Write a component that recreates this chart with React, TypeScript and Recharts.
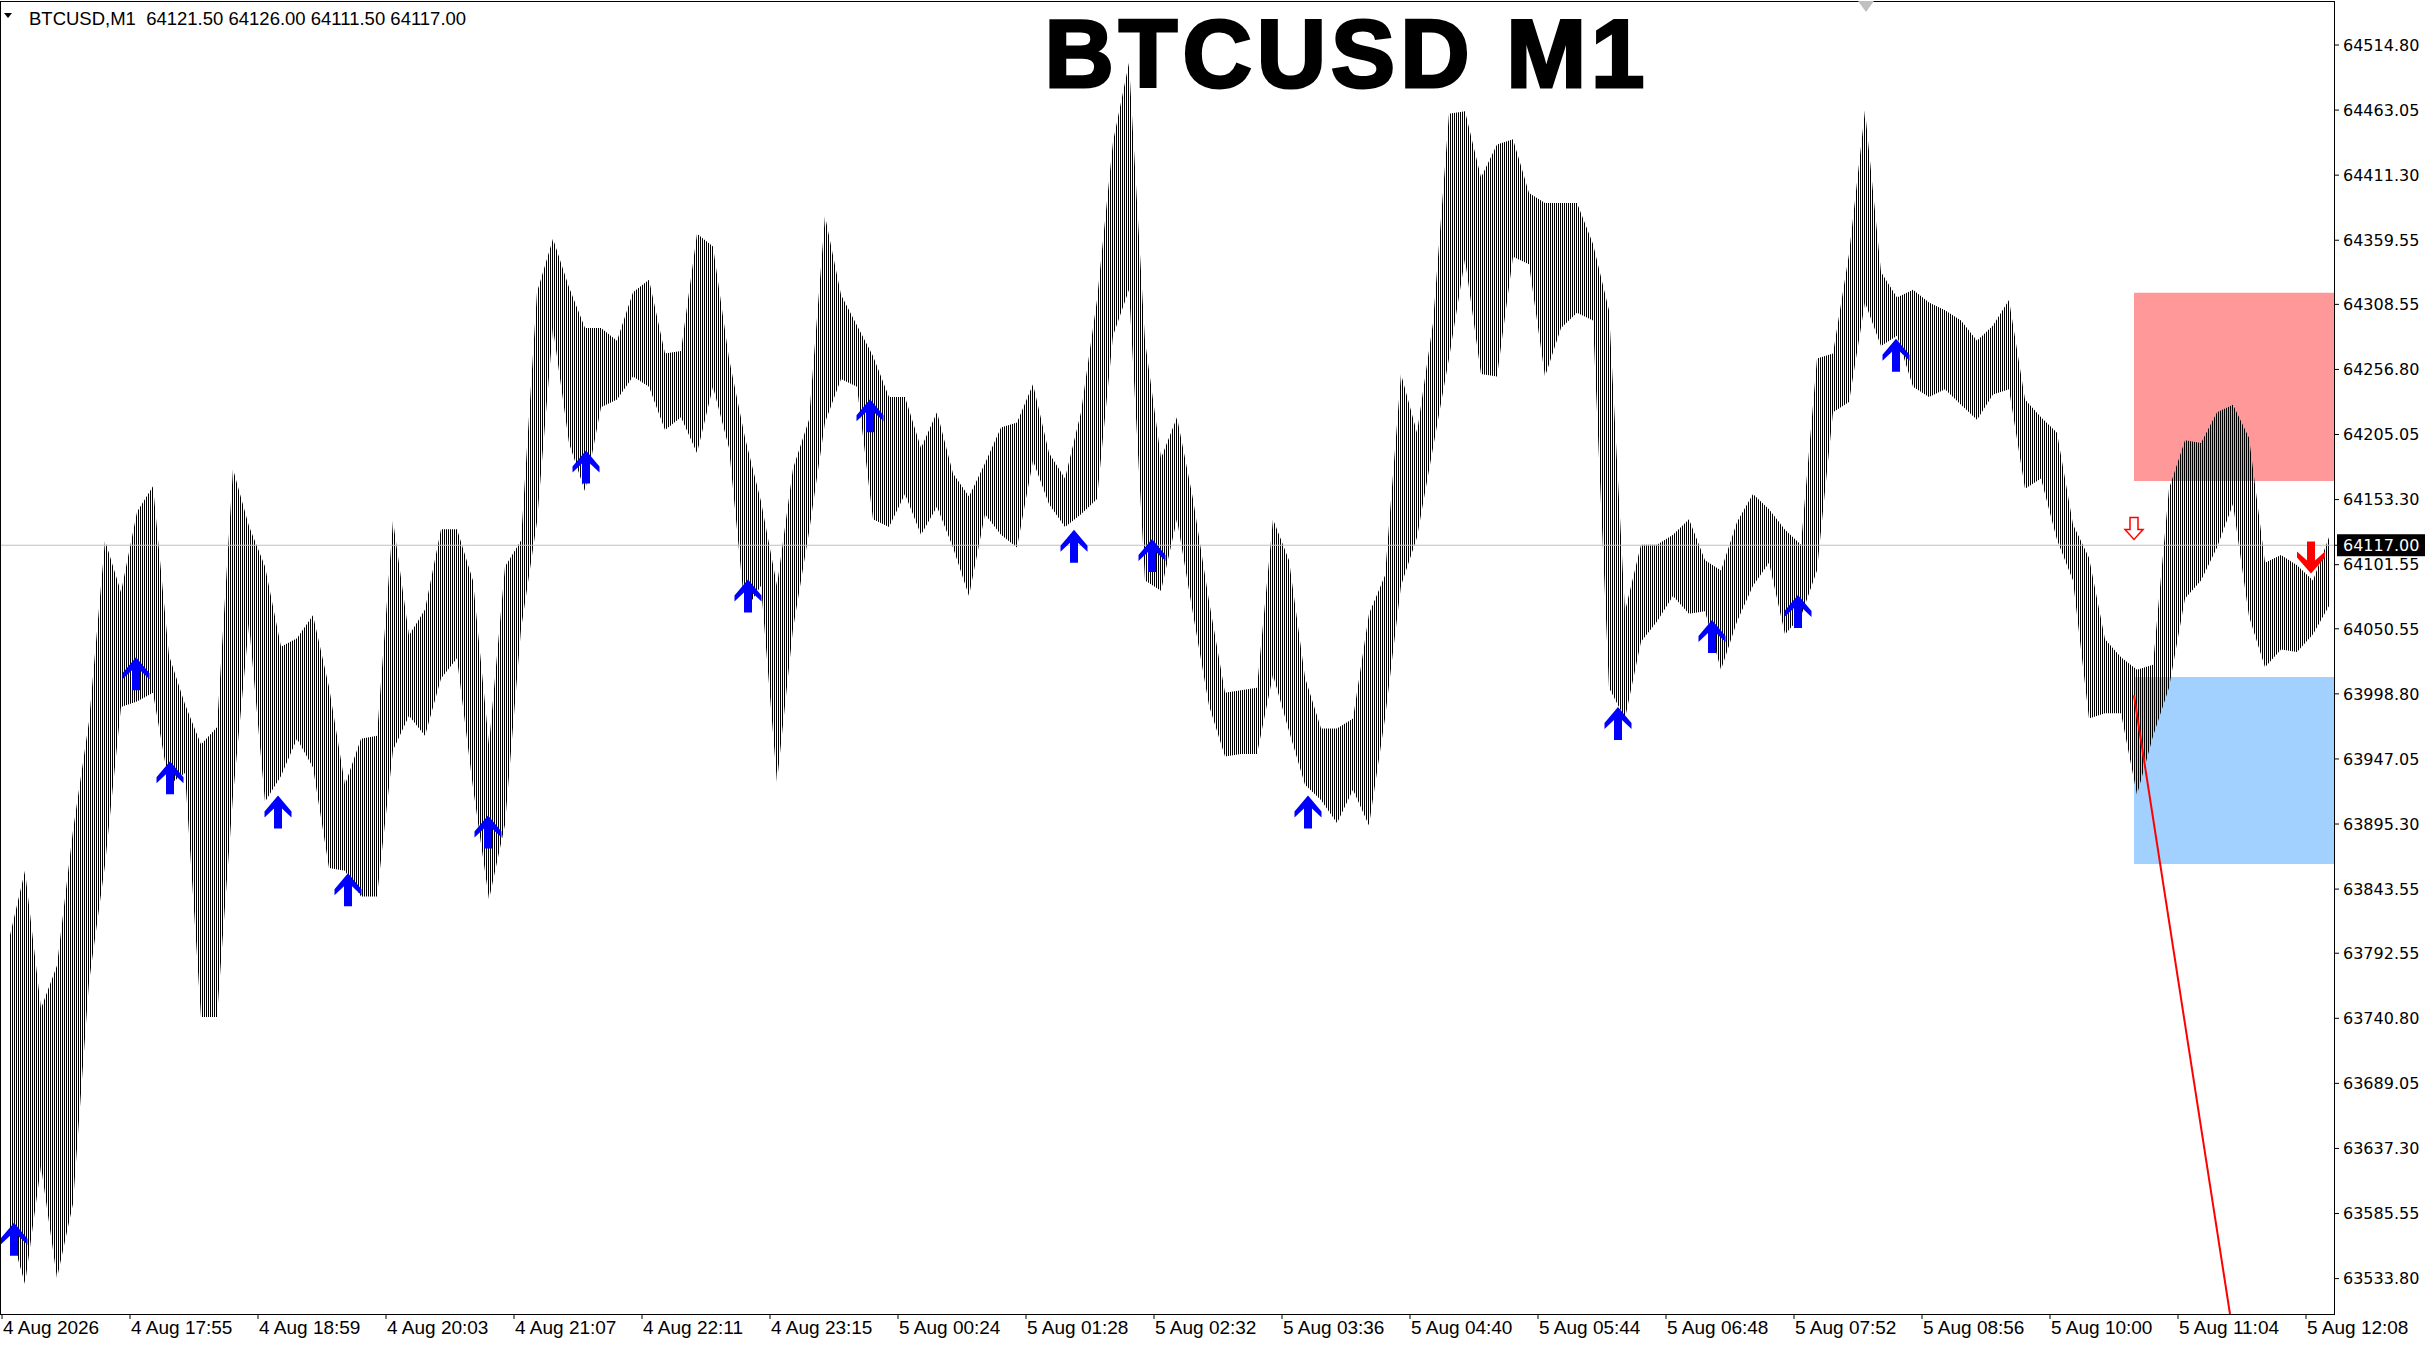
import React from 'react'
import {
  ComposedChart, Area, Scatter, XAxis, YAxis, ReferenceLine, ReferenceArea,
} from 'recharts'

// each value = high / low of one block of 8 M1 bars
const BAR_STEP = 8
const HIGH = [
  63803.4, 63858.2, 63748.6, 63782.8, 63890.1, 63976.9, 64120.7, 64079.6, 64143.5, 64164.0,
  64029.4, 63990.6, 63958.6, 63972.3, 64177.7, 64132.1, 64100.1, 64036.2, 64043.1, 64061.3,
  64004.3, 63926.6, 63963.2, 63965.5, 64136.6, 64045.3, 64065.9, 64129.8, 64129.8, 64088.7,
  63958.6, 64100.1, 64120.7, 64318.1, 64360.7, 64322.1, 64289.7, 64289.7, 64279.6, 64318.1,
  64328.2, 64269.4, 64271.4, 64364.7, 64354.6, 64265.4, 64202.5, 64151.8, 64084.8, 64178.1,
  64216.7, 64378.9, 64316.1, 64291.7, 64267.4, 64234.9, 64234.9, 64194.4, 64222.8, 64174.1,
  64155.8, 64182.2, 64210.6, 64214.6, 64245.1, 64190.3, 64170.0, 64222.8, 64312.0, 64437.8,
  64500.7, 64279.6, 64186.2, 64218.7, 64153.8, 64072.6, 63999.6, 64001.6, 64003.7, 64137.6,
  64105.1, 64011.8, 63971.2, 63971.2, 63979.3, 64062.5, 64092.9, 64253.2, 64206.5, 64293.7,
  64460.1, 64462.1, 64409.4, 64435.7, 64439.8, 64397.2, 64389.1, 64389.1, 64389.1, 64356.6,
  64303.9, 64064.5, 64117.3, 64117.3, 64125.4, 64137.6, 64105.1, 64097.0, 64135.5, 64157.8,
  64145.7, 64129.4, 64117.3, 64265.4, 64269.4, 64348.5, 64462.9, 64334.3, 64314.0, 64320.1,
  64310.0, 64303.9, 64295.8, 64279.6, 64291.7, 64312.0, 64232.9, 64218.7, 64206.5, 64133.5,
  64107.1, 64042.2, 64028.0, 64017.9, 64021.9, 64161.9, 64200.4, 64198.4, 64222.8, 64228.8,
  64202.5, 64103.1, 64109.2, 64101.0, 64088.9, 64123.4,
]
const LOW = [
  63575.1, 63529.5, 63623.1, 63534.1, 63593.4, 63769.2, 63862.7, 63988.3, 63992.8, 63999.7,
  63926.6, 63935.8, 63741.8, 63741.8, 63917.5, 64054.5, 63913.0, 63933.5, 63963.2, 63940.3,
  63860.4, 63858.2, 63837.6, 63837.6, 63954.0, 63981.4, 63965.5, 64011.1, 64027.1, 63924.4,
  63835.3, 63894.7, 64049.9, 64135.5, 64289.7, 64198.4, 64159.9, 64226.8, 64232.9, 64251.2,
  64243.0, 64208.6, 64218.7, 64190.3, 64243.0, 64194.4, 64064.5, 64084.8, 63928.6, 64050.3,
  64127.4, 64214.6, 64249.1, 64243.0, 64137.6, 64131.5, 64157.8, 64125.4, 64147.7, 64115.2,
  64076.7, 64141.6, 64125.4, 64115.2, 64184.2, 64149.7, 64131.5, 64141.6, 64153.8, 64283.6,
  64320.1, 64088.9, 64080.8, 64137.6, 64062.5, 63989.5, 63948.9, 63950.9, 63950.9, 64013.8,
  63969.2, 63926.6, 63914.4, 63896.2, 63922.5, 63894.1, 63979.3, 64084.8, 64123.4, 64194.4,
  64265.4, 64344.5, 64253.2, 64251.2, 64346.5, 64340.4, 64251.2, 64289.7, 64301.9, 64295.8,
  64003.7, 63979.3, 64040.2, 64056.4, 64076.7, 64062.5, 64064.5, 64017.9, 64056.4, 64084.8,
  64103.1, 64046.3, 64060.5, 64097.0, 64222.8, 64230.9, 64310.0, 64275.5, 64283.6, 64243.0,
  64234.9, 64241.0, 64228.8, 64216.7, 64236.9, 64241.0, 64161.9, 64170.0, 64121.3, 64088.9,
  63979.3, 63983.4, 63983.4, 63918.5, 63965.1, 64003.7, 64074.7, 64088.9, 64115.2, 64149.7,
  64060.5, 64019.9, 64034.1, 64032.1, 64046.3, 64068.6,
]

const TIME_TICKS = [0, 64, 128, 192, 256, 320, 384, 448, 512, 576, 640, 704, 768, 832, 896, 960, 1024, 1088, 1152]
const TIME_LABELS = [
  '4 Aug 2026', '4 Aug 17:55', '4 Aug 18:59', '4 Aug 20:03', '4 Aug 21:07', '4 Aug 22:11',
  '4 Aug 23:15', '5 Aug 00:24', '5 Aug 01:28', '5 Aug 02:32', '5 Aug 03:36', '5 Aug 04:40',
  '5 Aug 05:44', '5 Aug 06:48', '5 Aug 07:52', '5 Aug 08:56', '5 Aug 10:00', '5 Aug 11:04',
  '5 Aug 12:08',
]
const PRICE_TICKS = [
  64514.80, 64463.05, 64411.30, 64359.55, 64308.55, 64256.80, 64205.05, 64153.30, 64101.55,
  64050.55, 63998.80, 63947.05, 63895.30, 63843.55, 63792.55, 63740.80, 63689.05, 63637.30,
  63585.55, 63533.80,
]
const LAST_PRICE = 64117.0

const UP_ARROWS = [
  { i: 6, p: 63578.3 }, { i: 67, p: 64028.0 }, { i: 84, p: 63945.2 }, { i: 138, p: 63918.0 },
  { i: 173, p: 63856.2 }, { i: 243, p: 63902.0 }, { i: 292, p: 64192.3 }, { i: 373, p: 64089.8 },
  { i: 434, p: 64233.1 }, { i: 536, p: 64129.3 }, { i: 575, p: 64121.9 }, { i: 653, p: 63918.0 },
  { i: 808, p: 63988.4 }, { i: 855, p: 64057.6 }, { i: 898, p: 64077.4 }, { i: 947, p: 64281.3 },
]
const SELL_HINT = [{ i: 1066, p: 64121.6 }]
const SELL_ARROW = [{ i: 1154.5, p: 64094.5 }]

const ZONE_FROM = 1066
const SELL_ZONE = [64168.0, 64317.7]
const BUY_ZONE = [63863.5, 64012.2]
const TREND = [{ x: 1066, y: 63997.6 }, { x: 1114, y: 63505.65 }]

const X_DOMAIN = [-0.5, 1166]
const Y_DOMAIN = [63505.65, 64549.0]

const bars = HIGH.map((h, k) => ({ i: k * BAR_STEP + 3.5, hi: h, lo: LOW[k] }))

const TimeTick = ({ x, y, payload }: any) => {
  const idx = TIME_TICKS.indexOf(payload.value)
  return (
    <text x={x + 1} y={y} dy="0.71em" textAnchor="start" fill="#000"
      style={{ fontFamily: '"Liberation Sans", Arial, sans-serif', fontSize: 19 }}>
      {TIME_LABELS[idx]}
    </text>
  )
}

const PriceTick = ({ x, y, payload }: any) => {
  const font = { fontFamily: '"DejaVu Sans", Verdana, sans-serif', fontSize: 16 }
  if (payload.value === LAST_PRICE) {
    return (
      <g>
        <rect x={x - 6} y={y - 11} width={88} height={22} fill="#000" />
        <text x={x} y={y} dy="0.36em" textAnchor="start" fill="#fff" style={font}>
          {payload.value.toFixed(2)}
        </text>
      </g>
    )
  }
  return (
    <text x={x} y={y} dy="0.36em" textAnchor="start" fill="#000" style={font}>
      {payload.value.toFixed(2)}
    </text>
  )
}

const UpArrow = ({ cx, cy }: any) => (
  <polygon fill="#0000ff"
    points={[[0, 0], [13.5, 16], [13.5, 22], [4, 13], [4, 33], [-4, 33], [-4, 13], [-13.5, 22], [-13.5, 16]]
      .map(([dx, dy]) => `${cx + dx},${cy + dy}`).join(' ')} />
)

const DownArrow = ({ cx, cy }: any) => (
  <polygon fill="#ff0000"
    points={[[0, 0], [14, -16], [14, -22], [4, -13], [4, -32], [-4, -32], [-4, -13], [-14, -22], [-14, -16]]
      .map(([dx, dy]) => `${cx + dx},${cy + dy}`).join(' ')} />
)

const HollowDown = ({ cx, cy }: any) => (
  <polygon fill="#fff" stroke="#ff0000" strokeWidth={1.5}
    points={[[-4, -22], [4, -22], [4, -10], [9, -10], [0, 0], [-9, -10], [-4, -10]]
      .map(([dx, dy]) => `${cx + dx},${cy + dy}`).join(' ')} />
)

export default function App() {
  return (
    <div style={{ position: 'absolute', left: 0, top: 0, width: 2436, height: 1346, background: '#fff', overflow: 'hidden' }}>
      <ComposedChart width={2436} height={1346} data={bars} margin={{ top: 2, right: 0, bottom: 0, left: 1 }}>
        <defs>
          <pattern id="mt4bars" width="2" height="8" patternUnits="userSpaceOnUse">
            <rect x="0" y="0" width="1" height="8" fill="#000" />
          </pattern>
        </defs>
        <XAxis type="number" dataKey="i" domain={X_DOMAIN} allowDataOverflow ticks={TIME_TICKS} interval={0}
          height={32} tickSize={5} tickMargin={2} axisLine={false} tickLine={{ stroke: '#000' }} tick={<TimeTick />} />
        <YAxis orientation="right" type="number" domain={Y_DOMAIN} allowDataOverflow
          ticks={[...PRICE_TICKS, LAST_PRICE]} interval={0} width={102} tickSize={5} tickMargin={4}
          axisLine={false} tickLine={{ stroke: '#000' }} tick={<PriceTick />} />

        <ReferenceArea x1={ZONE_FROM} x2={X_DOMAIN[1]} y1={SELL_ZONE[0]} y2={SELL_ZONE[1]}
          fill="#ff9999" fillOpacity={1} stroke="none" />
        <ReferenceArea x1={ZONE_FROM} x2={X_DOMAIN[1]} y1={BUY_ZONE[0]} y2={BUY_ZONE[1]}
          fill="#a3d1ff" fillOpacity={1} stroke="none" />
        <ReferenceLine y={LAST_PRICE} stroke="#c0c0c0" strokeWidth={1} />

        <Area type="linear" dataKey={(d: any) => [d.lo, d.hi]} stroke="none" fill="url(#mt4bars)"
          fillOpacity={1} isAnimationActive={false} dot={false} activeDot={false} />

        <ReferenceLine segment={TREND} stroke="#ff0000" strokeWidth={2} />

        <Scatter data={UP_ARROWS} dataKey="p" shape={(p: any) => <UpArrow {...p} />} isAnimationActive={false} />
        <Scatter data={SELL_HINT} dataKey="p" shape={(p: any) => <HollowDown {...p} />} isAnimationActive={false} />
        <Scatter data={SELL_ARROW} dataKey="p" shape={(p: any) => <DownArrow {...p} />} isAnimationActive={false} />
      </ComposedChart>

      {/* chart frame */}
      <div style={{ position: 'absolute', left: 0, top: 1, width: 2335, height: 1314, border: '1px solid #000', boxSizing: 'border-box', pointerEvents: 'none' }} />
      {/* header */}
      <div style={{ position: 'absolute', left: 4, top: 13, width: 0, height: 0, borderLeft: '4px solid transparent', borderRight: '4px solid transparent', borderTop: '5px solid #000' }} />
      <div style={{ position: 'absolute', left: 29, top: 10, fontFamily: '"Liberation Sans", Arial, sans-serif', fontSize: 18.5, lineHeight: '18px', color: '#000', whiteSpace: 'pre' }}>
        {'BTCUSD,M1  64121.50 64126.00 64111.50 64117.00'}
      </div>
      <div style={{ position: 'absolute', left: 947, top: 11, width: 800, textAlign: 'center', fontFamily: '"Liberation Sans", Arial, sans-serif', fontWeight: 700, fontSize: 96, lineHeight: '86px', letterSpacing: 5, WebkitTextStroke: '3px #000', color: '#000' }}>
        BTCUSD M1
      </div>
      <div style={{ position: 'absolute', left: 1858, top: 1, width: 0, height: 0, borderLeft: '8px solid transparent', borderRight: '8px solid transparent', borderTop: '11px solid #c0c0c0' }} />
    </div>
  )
}
